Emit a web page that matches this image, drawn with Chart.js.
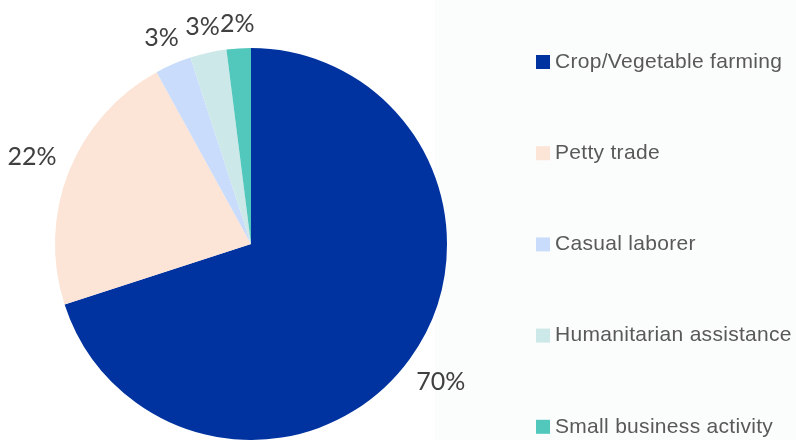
<!DOCTYPE html>
<html>
<head>
<meta charset="utf-8">
<script src="https://cdn.jsdelivr.net/npm/chart.js@4/dist/chart.umd.min.js"></script>
<style>
  html, body { margin: 0; padding: 0; background: #ffffff; }
  #wrap { width: 796px; height: 440px; position: relative; }
</style>
</head>
<body>
<div id="wrap"><canvas id="pie-chart"></canvas></div>
<script>
// livelihood sources - pie with outside % labels and a spaced legend

const categories = [
  "Crop/Vegetable farming",
  "Petty trade",
  "Casual laborer",
  "Humanitarian assistance",
  "Small business activity"
];
const shares = [70, 22, 3, 3, 2];
const sliceColors = ["#0033a0", "#fce4d6", "#cadcfb", "#cce8e8", "#52c7bc"];

// faint panel behind the legend side
const panelBg = {
  id: "panelBg",
  beforeDraw(chart) {
    const { ctx, width, height } = chart;
    ctx.save();
    ctx.fillStyle = "#ffffff";
    ctx.fillRect(0, 0, width, height);
    ctx.fillStyle = "#fbfcfc";
    ctx.fillRect(435, 0, width - 435, height);
    ctx.restore();
  }
};

// percent labels just outside each slice, box edge kept a fixed gap away
const outsideLabels = {
  id: "outsideLabels",
  afterDatasetsDraw(chart) {
    const { ctx } = chart;
    const meta = chart.getDatasetMeta(0);
    ctx.save();
    ctx.font = "25px Lato, 'Noto Sans', sans-serif";
    ctx.fillStyle = "#404040";
    ctx.textAlign = "center";
    ctx.textBaseline = "middle";
    meta.data.forEach((arc, i) => {
      const txt = shares[i] + "%";
      const mid = (arc.startAngle + arc.endAngle) / 2;
      const c = Math.cos(mid), s = Math.sin(mid);
      const halfW = ctx.measureText(txt).width / 2;
      const r = arc.outerRadius + 13 + halfW * Math.abs(c) + 10 * Math.abs(s);
      ctx.fillText(txt, arc.x + c * r, arc.y + s * r);
    });
    ctx.restore();
  }
};

// legend on the right, wide gaps between rows
const sideLegend = {
  id: "sideLegend",
  afterDraw(chart) {
    const { ctx } = chart;
    const left = 536, top = 62, step = 91.2;
    ctx.save();
    ctx.font = "21px 'Liberation Sans'";
    ctx.letterSpacing = "0.3px";
    ctx.textBaseline = "middle";
    chart.data.labels.forEach((label, i) => {
      const y = top + i * step;
      ctx.fillStyle = sliceColors[i];
      ctx.fillRect(left, y - 7, 14, 14);
      ctx.fillStyle = "#595959";
      ctx.fillText(label, left + 19, y);
    });
    ctx.restore();
  }
};

function draw() {
  new Chart(document.getElementById("pie-chart"), {
    type: "pie",
    data: {
      labels: categories,
      datasets: [{
        data: shares,
        backgroundColor: sliceColors,
        borderWidth: 0
      }]
    },
    options: {
      responsive: true,
      maintainAspectRatio: false,
      animation: false,
      layout: { padding: { top: 48, left: 0, right: 294, bottom: 0 } },
      plugins: {
        legend: { display: false },
        tooltip: { enabled: false }
      }
    },
    plugins: [panelBg, outsideLabels, sideLegend]
  });
}

Promise.all([
  document.fonts.load("25px Lato"),
  document.fonts.load("25px 'Noto Sans'"),
  document.fonts.load("21px 'Liberation Sans'")
]).then(draw, draw);
</script>
</body>
</html>
